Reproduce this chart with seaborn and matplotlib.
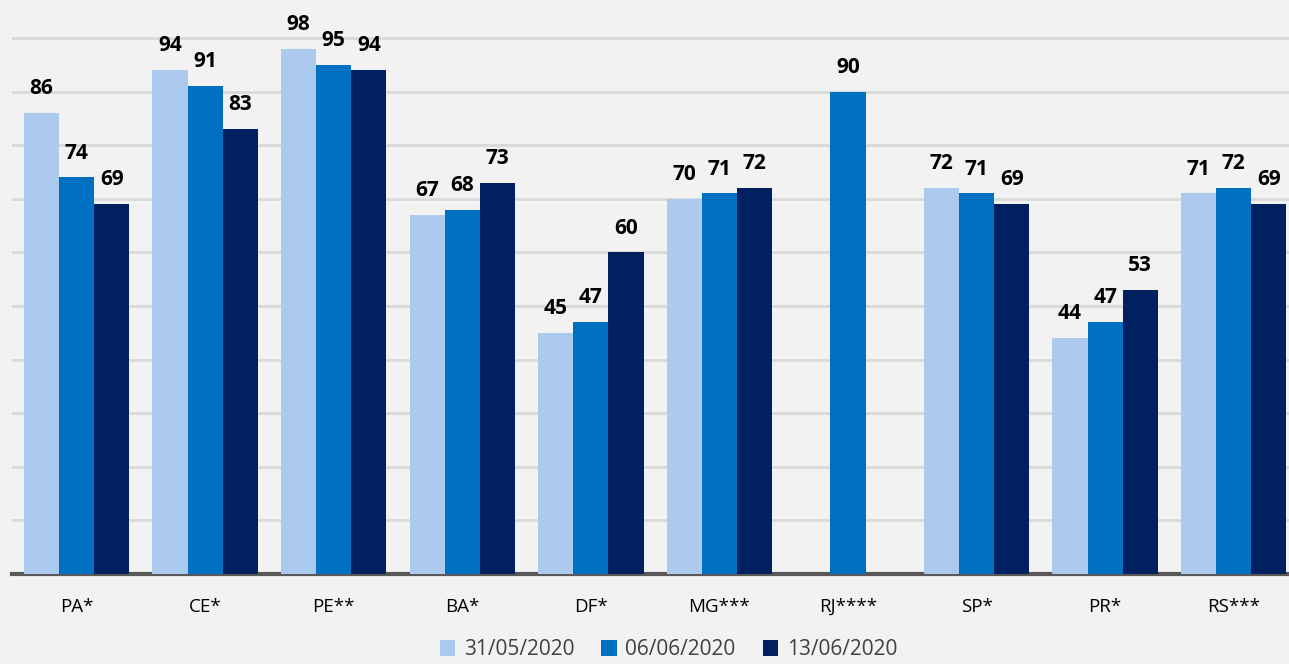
import numpy as np
import pandas as pd
import matplotlib
matplotlib.use("Agg")
import matplotlib.pyplot as plt
import seaborn as sns

estados = ["PA*", "CE*", "PE**", "BA*", "DF*", "MG***", "RJ****", "SP*", "PR*", "RS***"]
datas = ["31/05/2020", "06/06/2020", "13/06/2020"]
v_31_05 = [86, 94, 98, 67, 45, 70, np.nan, 72, 44, 71]
v_06_06 = [74, 91, 95, 68, 47, 71, 90, 71, 47, 72]
v_13_06 = [69, 83, 94, 73, 60, 72, np.nan, 69, 53, 69]
cores = ["#ABCAED", "#0070C0", "#002060"]

df = pd.DataFrame({
    "estado": estados * 3,
    "data": [d for d in datas for _ in estados],
    "valor": v_31_05 + v_06_06 + v_13_06,
})

sns.set_theme(style="white")
plt.rcParams["font.family"] = ["Open Sans", "DejaVu Sans"]

fig = plt.figure(figsize=(12.89, 6.64), dpi=100, facecolor="#F2F2F2")
ax = fig.add_axes([12 / 1289, 1 - 574 / 664, 1 - 12 / 1289, 574 / 664])
ax.set_facecolor("#F2F2F2")

sns.barplot(data=df, x="estado", y="valor", hue="data", order=estados,
            hue_order=datas, palette=cores, width=0.82, saturation=1,
            errorbar=None, ax=ax, legend=True, linewidth=0, zorder=3)

for cont in ax.containers:
    ax.bar_label(cont, fmt="%.0f", padding=10, fontsize=15, fontweight="bold",
                 color="#000000")

ax.set_ylim(0, 107.1)
ax.set_xlim(-0.502, 9.43)
ax.set_yticks(np.arange(10, 101, 10))
ax.yaxis.grid(True, color="#D9D9D9", linewidth=2, zorder=0)
ax.set_axisbelow(True)
ax.tick_params(axis="y", left=False, labelleft=False)
ax.tick_params(axis="x", bottom=False, labelsize=13.5, labelcolor="#000000", pad=11)
ax.set_xlabel("")
ax.set_ylabel("")
for s in ["top", "right", "left"]:
    ax.spines[s].set_visible(False)
ax.spines["bottom"].set_color("#595959")
ax.spines["bottom"].set_linewidth(3)

handles, labels = ax.get_legend_handles_labels()
ax.legend(handles, labels, loc="center", bbox_to_anchor=(0.514, -0.132),
          ncol=3, frameon=False, fontsize=15, handlelength=0.75, handleheight=0.75,
          handletextpad=0.4, columnspacing=1.3, labelcolor="#404040")

fig.savefig("out.png", dpi=100, facecolor=fig.get_facecolor())
